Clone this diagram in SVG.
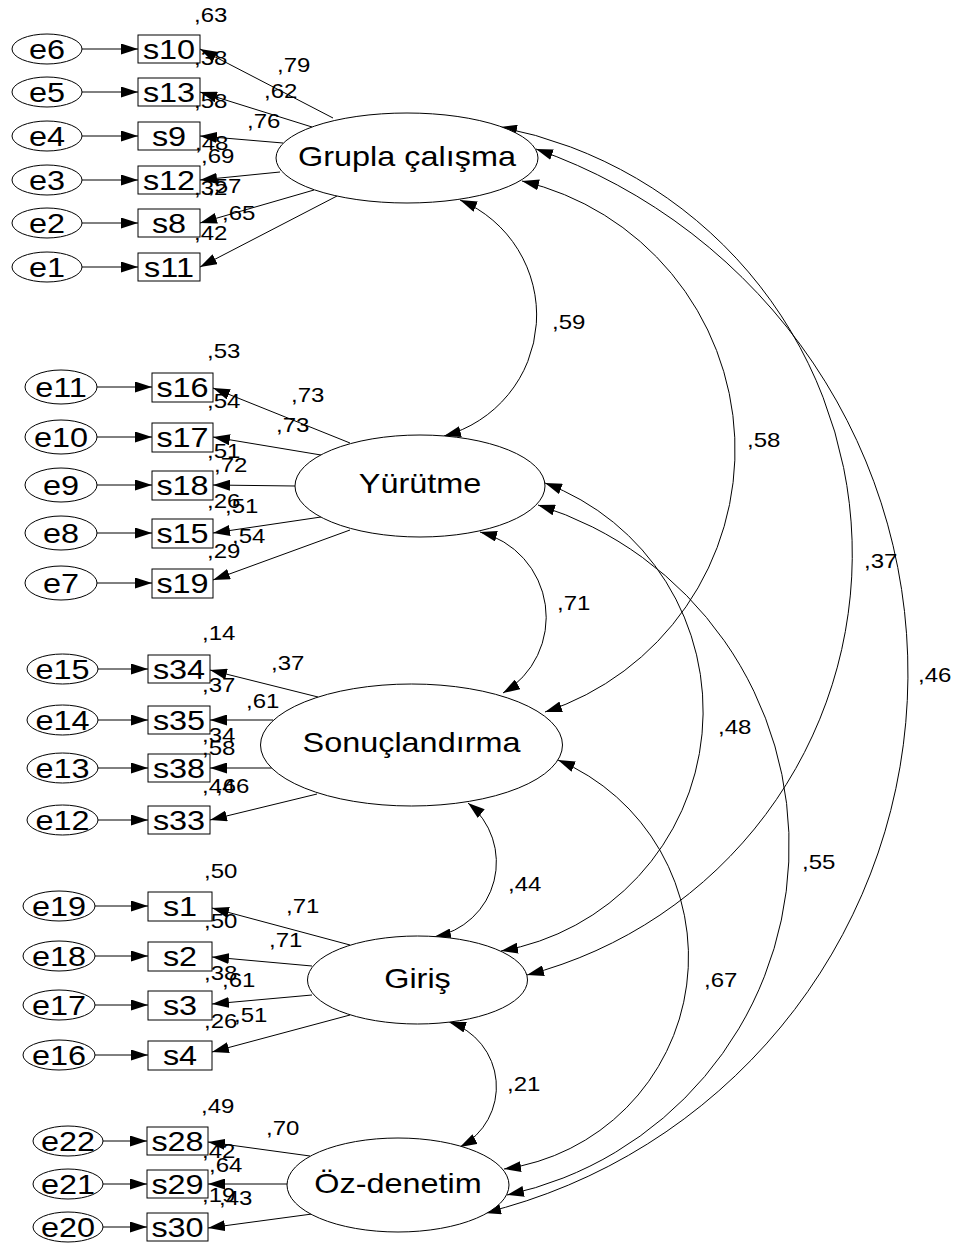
<svg xmlns="http://www.w3.org/2000/svg" width="957" height="1248" viewBox="0 0 957 1248">
<defs>
<marker id="ah" markerUnits="userSpaceOnUse" markerWidth="17" markerHeight="11" refX="17" refY="5.5" orient="auto-start-reverse" viewBox="0 0 17 11"><path d="M0,0 L17,5.5 L0,11 z" fill="#000"/></marker>
</defs>
<style>
.n{fill:#fff;stroke:#000;stroke-width:1}
.c{fill:none;stroke:#000;stroke-width:1}
.a{marker-end:url(#ah)}
.d{marker-start:url(#ah);marker-end:url(#ah)}
text{font-family:"Liberation Sans",Arial,sans-serif;fill:#000}
.L{font-size:27px;text-anchor:middle}
.v{font-size:20px}
</style>
<rect width="957" height="1248" fill="#fff"/>
<g id="connectors">
<line class="c a" x1="82" y1="49" x2="138" y2="49"/>
<line class="c a" x1="82" y1="92" x2="138" y2="92"/>
<line class="c a" x1="82" y1="136" x2="138" y2="136"/>
<line class="c a" x1="82" y1="180" x2="138" y2="180"/>
<line class="c a" x1="82" y1="223" x2="138" y2="223"/>
<line class="c a" x1="82" y1="267" x2="138" y2="267"/>
<line class="c a" x1="97" y1="387" x2="152" y2="387"/>
<line class="c a" x1="97" y1="437" x2="152" y2="437"/>
<line class="c a" x1="97" y1="485" x2="152" y2="485"/>
<line class="c a" x1="97" y1="533" x2="152" y2="533"/>
<line class="c a" x1="97" y1="583" x2="152" y2="583"/>
<line class="c a" x1="98" y1="669" x2="148" y2="669"/>
<line class="c a" x1="98" y1="720" x2="148" y2="720"/>
<line class="c a" x1="98" y1="768" x2="148" y2="768"/>
<line class="c a" x1="98" y1="820" x2="148" y2="820"/>
<line class="c a" x1="95" y1="906" x2="148" y2="906"/>
<line class="c a" x1="95" y1="956" x2="148" y2="956"/>
<line class="c a" x1="95" y1="1005" x2="148" y2="1005"/>
<line class="c a" x1="95" y1="1055" x2="148" y2="1055"/>
<line class="c a" x1="103" y1="1141" x2="147" y2="1141"/>
<line class="c a" x1="103" y1="1184" x2="147" y2="1184"/>
<line class="c a" x1="103" y1="1227" x2="147" y2="1227"/>
<line class="c a" x1="333" y1="118" x2="200" y2="49"/>
<line class="c a" x1="312" y1="127" x2="200" y2="92"/>
<line class="c a" x1="283" y1="143" x2="200" y2="136"/>
<line class="c a" x1="280" y1="172" x2="200" y2="180"/>
<line class="c a" x1="314" y1="190" x2="200" y2="223"/>
<line class="c a" x1="337" y1="196" x2="200" y2="267"/>
<line class="c a" x1="350" y1="443" x2="213" y2="388"/>
<line class="c a" x1="321" y1="455" x2="213" y2="437"/>
<line class="c a" x1="295" y1="486" x2="213" y2="485"/>
<line class="c a" x1="321" y1="517" x2="213" y2="533"/>
<line class="c a" x1="350" y1="530" x2="213" y2="580"/>
<line class="c a" x1="318" y1="697" x2="210" y2="670"/>
<line class="c a" x1="273" y1="720" x2="210" y2="720"/>
<line class="c a" x1="272" y1="768" x2="210" y2="768"/>
<line class="c a" x1="317" y1="794" x2="210" y2="820"/>
<line class="c a" x1="350" y1="945" x2="212" y2="908"/>
<line class="c a" x1="312" y1="966" x2="212" y2="957"/>
<line class="c a" x1="312" y1="995" x2="212" y2="1004"/>
<line class="c a" x1="350" y1="1015" x2="212" y2="1052"/>
<line class="c a" x1="310" y1="1156" x2="208" y2="1142"/>
<line class="c a" x1="287" y1="1184" x2="208" y2="1184"/>
<line class="c a" x1="312" y1="1214" x2="208" y2="1228"/>
<path class="c d" d="M460,200 A125,125 0 0 1 444,436"/>
<path class="c d" d="M480,532 A88,88 0 0 1 503,693"/>
<path class="c d" d="M468,803 A76,76 0 0 1 434,937"/>
<path class="c d" d="M449,1022 A68,68 0 0 1 460,1147"/>
<path class="c d" d="M522,181 A276,276 0 0 1 545,712"/>
<path class="c d" d="M545,483 A243.5,243.5 0 0 1 501,951"/>
<path class="c d" d="M500,127 A435,435 0 0 1 527,975"/>
<path class="c d" d="M536,149 A555.5,555.5 0 0 1 484,1213"/>
<path class="c d" d="M538,505 A357,357 0 0 1 507,1195"/>
<path class="c d" d="M558,760 A214,214 0 0 1 504,1169"/>
</g>
<g id="grupla"><ellipse class="n" cx="407" cy="158" rx="131" ry="45"/><text class="L" transform="translate(407 166) scale(1.2 1)">Grupla çalışma</text></g>
<g id="yurutme"><ellipse class="n" cx="420" cy="486" rx="125" ry="51"/><text class="L" transform="translate(420 493) scale(1.2 1)">Yürütme</text></g>
<g id="sonuclandirma"><ellipse class="n" cx="411.5" cy="745" rx="151" ry="61"/><text class="L" transform="translate(411.5 752) scale(1.2 1)">Sonuçlandırma</text></g>
<g id="giris"><ellipse class="n" cx="417.5" cy="980" rx="110" ry="44"/><text class="L" transform="translate(417.5 988) scale(1.2 1)">Giriş</text></g>
<g id="ozdenetim"><ellipse class="n" cx="398" cy="1185" rx="111" ry="47"/><text class="L" transform="translate(398 1193) scale(1.2 1)">Öz-denetim</text></g>
<g id="e6"><ellipse class="n" cx="47" cy="49" rx="35" ry="15"/><text class="L" transform="translate(47 59) scale(1.2 1)">e6</text></g>
<g id="e5"><ellipse class="n" cx="47" cy="92" rx="35" ry="15"/><text class="L" transform="translate(47 102) scale(1.2 1)">e5</text></g>
<g id="e4"><ellipse class="n" cx="47" cy="136" rx="35" ry="15"/><text class="L" transform="translate(47 146) scale(1.2 1)">e4</text></g>
<g id="e3"><ellipse class="n" cx="47" cy="180" rx="35" ry="15"/><text class="L" transform="translate(47 190) scale(1.2 1)">e3</text></g>
<g id="e2"><ellipse class="n" cx="47" cy="223" rx="35" ry="15"/><text class="L" transform="translate(47 233) scale(1.2 1)">e2</text></g>
<g id="e1"><ellipse class="n" cx="47" cy="267" rx="35" ry="15"/><text class="L" transform="translate(47 277) scale(1.2 1)">e1</text></g>
<g id="s10"><rect class="n" x="138" y="35" width="62" height="28"/><text class="L" transform="translate(169 59) scale(1.2 1)">s10</text></g>
<g id="s13"><rect class="n" x="138" y="78" width="62" height="28"/><text class="L" transform="translate(169 102) scale(1.2 1)">s13</text></g>
<g id="s9"><rect class="n" x="138" y="122" width="62" height="28"/><text class="L" transform="translate(169 146) scale(1.2 1)">s9</text></g>
<g id="s12"><rect class="n" x="138" y="166" width="62" height="28"/><text class="L" transform="translate(169 190) scale(1.2 1)">s12</text></g>
<g id="s8"><rect class="n" x="138" y="209" width="62" height="28"/><text class="L" transform="translate(169 233) scale(1.2 1)">s8</text></g>
<g id="s11"><rect class="n" x="138" y="253" width="62" height="28"/><text class="L" transform="translate(169 277) scale(1.2 1)">s11</text></g>
<g id="e11"><ellipse class="n" cx="61" cy="387" rx="36" ry="17"/><text class="L" transform="translate(61 397) scale(1.2 1)">e11</text></g>
<g id="e10"><ellipse class="n" cx="61" cy="437" rx="36" ry="17"/><text class="L" transform="translate(61 447) scale(1.2 1)">e10</text></g>
<g id="e9"><ellipse class="n" cx="61" cy="485" rx="36" ry="17"/><text class="L" transform="translate(61 495) scale(1.2 1)">e9</text></g>
<g id="e8"><ellipse class="n" cx="61" cy="533" rx="36" ry="17"/><text class="L" transform="translate(61 543) scale(1.2 1)">e8</text></g>
<g id="e7"><ellipse class="n" cx="61" cy="583" rx="36" ry="17"/><text class="L" transform="translate(61 593) scale(1.2 1)">e7</text></g>
<g id="s16"><rect class="n" x="152" y="373" width="61" height="29"/><text class="L" transform="translate(182.5 397) scale(1.2 1)">s16</text></g>
<g id="s17"><rect class="n" x="152" y="423" width="61" height="29"/><text class="L" transform="translate(182.5 447) scale(1.2 1)">s17</text></g>
<g id="s18"><rect class="n" x="152" y="471" width="61" height="29"/><text class="L" transform="translate(182.5 495) scale(1.2 1)">s18</text></g>
<g id="s15"><rect class="n" x="152" y="519" width="61" height="29"/><text class="L" transform="translate(182.5 543) scale(1.2 1)">s15</text></g>
<g id="s19"><rect class="n" x="152" y="569" width="61" height="29"/><text class="L" transform="translate(182.5 593) scale(1.2 1)">s19</text></g>
<g id="e15"><ellipse class="n" cx="62.5" cy="669" rx="35.5" ry="15"/><text class="L" transform="translate(62.5 679) scale(1.2 1)">e15</text></g>
<g id="e14"><ellipse class="n" cx="62.5" cy="720" rx="35.5" ry="15"/><text class="L" transform="translate(62.5 730) scale(1.2 1)">e14</text></g>
<g id="e13"><ellipse class="n" cx="62.5" cy="768" rx="35.5" ry="15"/><text class="L" transform="translate(62.5 778) scale(1.2 1)">e13</text></g>
<g id="e12"><ellipse class="n" cx="62.5" cy="820" rx="35.5" ry="15"/><text class="L" transform="translate(62.5 830) scale(1.2 1)">e12</text></g>
<g id="s34"><rect class="n" x="148" y="655" width="62" height="28"/><text class="L" transform="translate(179 679) scale(1.2 1)">s34</text></g>
<g id="s35"><rect class="n" x="148" y="706" width="62" height="28"/><text class="L" transform="translate(179 730) scale(1.2 1)">s35</text></g>
<g id="s38"><rect class="n" x="148" y="754" width="62" height="28"/><text class="L" transform="translate(179 778) scale(1.2 1)">s38</text></g>
<g id="s33"><rect class="n" x="148" y="806" width="62" height="28"/><text class="L" transform="translate(179 830) scale(1.2 1)">s33</text></g>
<g id="e19"><ellipse class="n" cx="59" cy="906" rx="36" ry="15"/><text class="L" transform="translate(59 916) scale(1.2 1)">e19</text></g>
<g id="e18"><ellipse class="n" cx="59" cy="956" rx="36" ry="15"/><text class="L" transform="translate(59 966) scale(1.2 1)">e18</text></g>
<g id="e17"><ellipse class="n" cx="59" cy="1005" rx="36" ry="15"/><text class="L" transform="translate(59 1015) scale(1.2 1)">e17</text></g>
<g id="e16"><ellipse class="n" cx="59" cy="1055" rx="36" ry="15"/><text class="L" transform="translate(59 1065) scale(1.2 1)">e16</text></g>
<g id="s1"><rect class="n" x="148" y="892" width="64" height="29"/><text class="L" transform="translate(180 916) scale(1.2 1)">s1</text></g>
<g id="s2"><rect class="n" x="148" y="942" width="64" height="29"/><text class="L" transform="translate(180 966) scale(1.2 1)">s2</text></g>
<g id="s3"><rect class="n" x="148" y="991" width="64" height="29"/><text class="L" transform="translate(180 1015) scale(1.2 1)">s3</text></g>
<g id="s4"><rect class="n" x="148" y="1041" width="64" height="29"/><text class="L" transform="translate(180 1065) scale(1.2 1)">s4</text></g>
<g id="e22"><ellipse class="n" cx="68" cy="1141" rx="35" ry="15"/><text class="L" transform="translate(68 1151) scale(1.2 1)">e22</text></g>
<g id="e21"><ellipse class="n" cx="68" cy="1184" rx="35" ry="15"/><text class="L" transform="translate(68 1194) scale(1.2 1)">e21</text></g>
<g id="e20"><ellipse class="n" cx="68" cy="1227" rx="35" ry="15"/><text class="L" transform="translate(68 1237) scale(1.2 1)">e20</text></g>
<g id="s28"><rect class="n" x="147" y="1127" width="61" height="28"/><text class="L" transform="translate(177.5 1151) scale(1.2 1)">s28</text></g>
<g id="s29"><rect class="n" x="147" y="1170" width="61" height="28"/><text class="L" transform="translate(177.5 1194) scale(1.2 1)">s29</text></g>
<g id="s30"><rect class="n" x="147" y="1213" width="61" height="28"/><text class="L" transform="translate(177.5 1237) scale(1.2 1)">s30</text></g>
<g id="labels" class="v">
<text transform="translate(194 22) scale(1.2 1)">,63</text>
<text transform="translate(194 65) scale(1.2 1)">,38</text>
<text transform="translate(277 72) scale(1.2 1)">,79</text>
<text transform="translate(264 98) scale(1.2 1)">,62</text>
<text transform="translate(194 108) scale(1.2 1)">,58</text>
<text transform="translate(247 128) scale(1.2 1)">,76</text>
<text transform="translate(195 150) scale(1.2 1)">,48</text>
<text transform="translate(201 163) scale(1.2 1)">,69</text>
<text transform="translate(194 195) scale(1.2 1)">,32</text>
<text transform="translate(208 193) scale(1.2 1)">,57</text>
<text transform="translate(222 220) scale(1.2 1)">,65</text>
<text transform="translate(194 240) scale(1.2 1)">,42</text>
<text transform="translate(207 358) scale(1.2 1)">,53</text>
<text transform="translate(291 402) scale(1.2 1)">,73</text>
<text transform="translate(207 408) scale(1.2 1)">,54</text>
<text transform="translate(276 432) scale(1.2 1)">,73</text>
<text transform="translate(207 458) scale(1.2 1)">,51</text>
<text transform="translate(214 472) scale(1.2 1)">,72</text>
<text transform="translate(207 508) scale(1.2 1)">,26</text>
<text transform="translate(225 513) scale(1.2 1)">,51</text>
<text transform="translate(207 558) scale(1.2 1)">,29</text>
<text transform="translate(232 543) scale(1.2 1)">,54</text>
<text transform="translate(202 640) scale(1.2 1)">,14</text>
<text transform="translate(271 670) scale(1.2 1)">,37</text>
<text transform="translate(202 692) scale(1.2 1)">,37</text>
<text transform="translate(246 708) scale(1.2 1)">,61</text>
<text transform="translate(202 742) scale(1.2 1)">,34</text>
<text transform="translate(202 755) scale(1.2 1)">,58</text>
<text transform="translate(202 793) scale(1.2 1)">,44</text>
<text transform="translate(216 793) scale(1.2 1)">,66</text>
<text transform="translate(204 878) scale(1.2 1)">,50</text>
<text transform="translate(286 913) scale(1.2 1)">,71</text>
<text transform="translate(204 928) scale(1.2 1)">,50</text>
<text transform="translate(269 947) scale(1.2 1)">,71</text>
<text transform="translate(204 980) scale(1.2 1)">,38</text>
<text transform="translate(222 987) scale(1.2 1)">,61</text>
<text transform="translate(204 1028) scale(1.2 1)">,26</text>
<text transform="translate(234 1022) scale(1.2 1)">,51</text>
<text transform="translate(201 1113) scale(1.2 1)">,49</text>
<text transform="translate(266 1135) scale(1.2 1)">,70</text>
<text transform="translate(202 1158) scale(1.2 1)">,42</text>
<text transform="translate(209 1172) scale(1.2 1)">,64</text>
<text transform="translate(202 1202) scale(1.2 1)">,19</text>
<text transform="translate(219 1205) scale(1.2 1)">,43</text>
<text transform="translate(552 329) scale(1.2 1)">,59</text>
<text transform="translate(557 610) scale(1.2 1)">,71</text>
<text transform="translate(747 447) scale(1.2 1)">,58</text>
<text transform="translate(864 568) scale(1.2 1)">,37</text>
<text transform="translate(918 682) scale(1.2 1)">,46</text>
<text transform="translate(718 734) scale(1.2 1)">,48</text>
<text transform="translate(802 869) scale(1.2 1)">,55</text>
<text transform="translate(508 891) scale(1.2 1)">,44</text>
<text transform="translate(704 987) scale(1.2 1)">,67</text>
<text transform="translate(507 1091) scale(1.2 1)">,21</text>
</g>
</svg>
